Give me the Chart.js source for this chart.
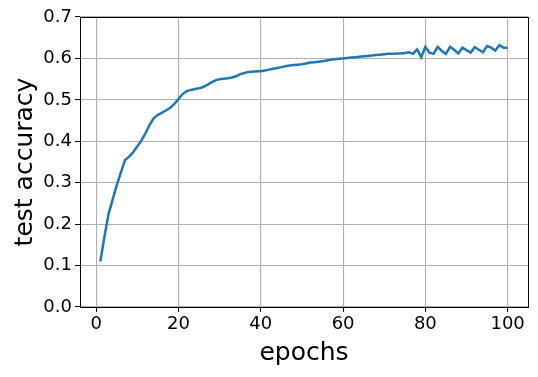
<!DOCTYPE html>
<html>
<head>
<meta charset="utf-8">
<script src="https://cdn.jsdelivr.net/npm/chart.js@4/dist/chart.umd.min.js"></script>
<style>
html,body{margin:0;padding:0;background:#fff;}
#wrap{width:538px;height:377px;position:relative;}
</style>
</head>
<body>
<div id="wrap"><canvas id="c" width="538" height="377"></canvas></div>
<script>
const epochs = Array.from({length: 100}, (_, i) => i + 1);
const testAccuracy = [
  0.110, 0.170, 0.225, 0.260, 0.295, 0.325, 0.355, 0.363, 0.374, 0.388,
  0.402, 0.420, 0.440, 0.456, 0.464, 0.469, 0.475, 0.481, 0.490, 0.502,
  0.514, 0.521, 0.524, 0.526, 0.528, 0.531, 0.536, 0.542, 0.547, 0.550,
  0.551, 0.552, 0.554, 0.557, 0.562, 0.565, 0.567, 0.568, 0.569, 0.569,
  0.571, 0.573, 0.575, 0.577, 0.579, 0.581, 0.583, 0.584, 0.585, 0.586,
  0.588, 0.590, 0.591, 0.592, 0.593, 0.595, 0.597, 0.598, 0.599, 0.600,
  0.601, 0.602, 0.603, 0.604, 0.605, 0.606, 0.607, 0.608, 0.609, 0.610,
  0.611, 0.611, 0.612, 0.612, 0.613, 0.615, 0.611, 0.622, 0.603, 0.628,
  0.614, 0.611, 0.628, 0.618, 0.611, 0.628, 0.621, 0.612, 0.626, 0.620,
  0.614, 0.627, 0.621, 0.615, 0.630, 0.626, 0.619, 0.632, 0.626, 0.626
];
const xTicks = [0, 20, 40, 60, 80, 100];
const yTicks = [0.0, 0.1, 0.2, 0.3, 0.4, 0.5, 0.6, 0.7];

const FONT = "'DejaVu Sans', sans-serif";

const frame = {
  id: 'frame',
  afterDraw(chart) {
    const {ctx, chartArea: a} = chart;
    ctx.save();
    ctx.strokeStyle = '#000';
    ctx.lineWidth = 1;
    ctx.strokeRect(Math.round(a.left) + 0.5, Math.round(a.top) + 0.5,
                   Math.round(a.right - a.left), Math.round(a.bottom - a.top));
    ctx.restore();
  }
};

new Chart(document.getElementById('c'), {
  type: 'line',
  data: {
    datasets: [{
      data: epochs.map((e, i) => ({x: e, y: testAccuracy[i]})),
      borderColor: '#1f77b4',
      borderWidth: 2.5,
      pointRadius: 0,
      tension: 0,
      fill: false
    }]
  },
  options: {
    responsive: false,
    animation: false,
    devicePixelRatio: 1,
    layout: {padding: {left: 0, right: 10, top: 17, bottom: 0}},
    plugins: {legend: {display: false}, tooltip: {enabled: false}},
    scales: {
      x: {
        type: 'linear',
        min: -3.95,
        max: 104.95,
        afterBuildTicks(s) { s.ticks = xTicks.map(v => ({value: v})); },
        afterFit(s) { s.height = 70; },
        grid: {color: '#b0b0b0', lineWidth: 1.1, drawTicks: true, tickLength: 5, tickColor: '#000', tickWidth: 1},
        border: {display: false},
        ticks: {color: '#000', font: {family: FONT, size: 18}, padding: 2, maxRotation: 0, autoSkip: false},
        title: {display: true, text: 'epochs', color: '#000', font: {family: FONT, size: 25}, padding: {top: 0, bottom: 9}}
      },
      y: {
        type: 'linear',
        min: 0,
        max: 0.7,
        afterBuildTicks(s) { s.ticks = yTicks.map(v => ({value: v})); },
        afterFit(s) { s.width = 80; },
        grid: {color: '#b0b0b0', lineWidth: 1.1, drawTicks: true, tickLength: 5, tickColor: '#000', tickWidth: 1},
        border: {display: false},
        ticks: {color: '#000', font: {family: FONT, size: 18}, padding: 3, autoSkip: false,
                callback: v => Number(v).toFixed(1)},
        title: {display: true, text: 'test accuracy', color: '#000', font: {family: FONT, size: 25}, padding: {top: 10, bottom: 0}}
      }
    }
  },
  plugins: [frame]
});
</script>
</body>
</html>
